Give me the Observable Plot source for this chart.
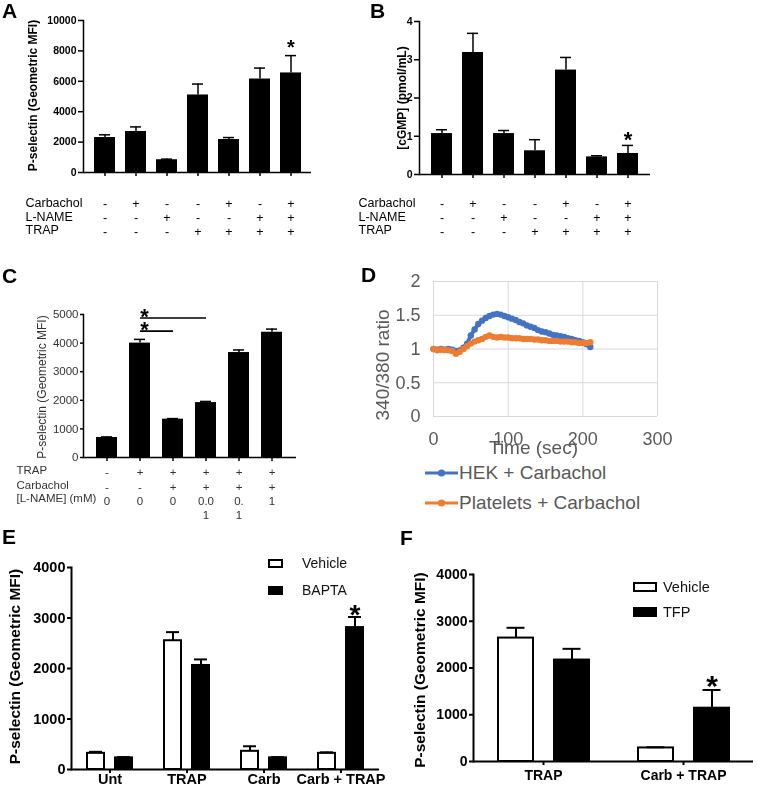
<!DOCTYPE html>
<html>
<head>
<meta charset="utf-8">
<script src="https://cdn.jsdelivr.net/npm/d3@7"></script>
<script src="https://cdn.jsdelivr.net/npm/@observablehq/plot@0.6"></script>
<style>
  html, body { margin: 0; padding: 0; background: #fff; }
  #fig { position: relative; width: 757px; height: 793px; overflow: hidden; background: #fff;
         font-family: "Liberation Sans", Arial, Helvetica, sans-serif; }
  .panel { position: absolute; will-change: transform; }
  .panel svg { display: block; }
  .letter { position: absolute; font: bold 21px/1 "Liberation Sans", Arial, sans-serif; color: #000; }
  .leg { position: absolute; display: flex; align-items: center; white-space: nowrap; }
</style>
</head>
<body>
<div id="fig"></div>
<script>
const FONT = '"Liberation Sans", Arial, Helvetica, sans-serif';

// ---------------- Panel A ----------------
const aConditions = ["Untreated", "Carbachol", "L-NAME", "TRAP", "Carbachol + TRAP", "L-NAME + TRAP", "Carbachol + L-NAME + TRAP"];
const aMean   = [2300, 2700, 840, 5100, 2170, 6150, 6550];
const aErrTop = [2480, 3000, 880, 5820, 2300, 6870, 7690];
const aStarred = ["Carbachol + L-NAME + TRAP"];
const aRowLabels = ["Carbachol", "L-NAME", "TRAP"];
const aCarbachol = ["-", "+", "-", "-", "+", "-", "+"];
const aLName     = ["-", "-", "+", "-", "-", "+", "+"];
const aTrap      = ["-", "-", "-", "+", "+", "+", "+"];
const aYTicks = [0, 2000, 4000, 6000, 8000, 10000];
const aYTitle = "P-selectin (Geometric MFI)";

// ---------------- Panel B ----------------
const bConditions = ["Untreated", "Carbachol", "L-NAME", "TRAP", "Carbachol + TRAP", "L-NAME + TRAP", "Carbachol + L-NAME + TRAP"];
const bMean   = [1.07, 3.19, 1.07, 0.62, 2.73, 0.46, 0.55];
const bErrTop = [1.17, 3.69, 1.15, 0.91, 3.06, 0.49, 0.76];
const bStarred = ["Carbachol + L-NAME + TRAP"];
const bRowLabels = ["Carbachol", "L-NAME", "TRAP"];
const bCarbachol = ["-", "+", "-", "-", "+", "-", "+"];
const bLName     = ["-", "-", "+", "-", "-", "+", "+"];
const bTrap      = ["-", "-", "-", "+", "+", "+", "+"];
const bYTicks = [0, 1, 2, 3, 4];
const bYTitle = "[cGMP] (pmol/mL)";

// ---------------- Panel C ----------------
const cConditions = ["Untreated", "TRAP", "TRAP + Carbachol", "TRAP + Carbachol + 0.01 mM L-NAME", "TRAP + Carbachol + 0.1 mM L-NAME", "TRAP + Carbachol + 1 mM L-NAME"];
const cMean   = [700, 4000, 1340, 1920, 3670, 4380];
const cErrTop = [720, 4130, 1360, 1960, 3760, 4490];
const cRowLabels = ["TRAP", "Carbachol", "[L-NAME] (mM)"];
const cTrap      = ["-", "+", "+", "+", "+", "+"];
const cCarbachol = ["-", "-", "+", "+", "+", "+"];
const cLName     = ["0", "0", "0", "0.0\n1", "0.\n1", "1"];
const cYTicks = [0, 1000, 2000, 3000, 4000, 5000];
const cYTitle = "P-selectin (Geometric MFI)";
const cSigFrom  = ["TRAP", "TRAP"];
const cSigTo    = ["TRAP + Carbachol + 0.01 mM L-NAME", "TRAP + Carbachol"];
const cSigLevel = [4880, 4420];

// ---------------- Panel D ----------------
const dTime = [0,5,10,15,20,25,30,35,40,45,50,55,60,65,70,75,80,85,90,95,100,105,110,115,120,125,130,135,140,145,150,155,160,165,170,175,180,185,190,195,200,205,210];
const dHek = [1.00,0.99,1.00,0.99,1.00,0.99,0.97,0.98,1.02,1.08,1.20,1.29,1.37,1.42,1.46,1.49,1.51,1.52,1.51,1.49,1.47,1.45,1.43,1.40,1.38,1.35,1.33,1.31,1.28,1.26,1.25,1.23,1.21,1.20,1.19,1.18,1.16,1.15,1.13,1.12,1.10,1.07,1.03];
const dPlatelets = [1.00,0.98,0.99,0.99,0.98,0.97,0.93,0.96,1.00,1.04,1.08,1.11,1.13,1.15,1.18,1.20,1.18,1.17,1.18,1.17,1.17,1.16,1.16,1.16,1.15,1.15,1.15,1.14,1.14,1.13,1.13,1.12,1.12,1.12,1.11,1.11,1.11,1.10,1.10,1.09,1.09,1.09,1.10];
const dSeriesNames = ["HEK + Carbachol", "Platelets + Carbachol"];
const dSeriesColors = ["#4472C4", "#ED7D31"];
const dXTicks = [0, 100, 200, 300];
const dYTicks = [0, 0.5, 1, 1.5, 2];
const dXTitle = "Time (sec)";
const dYTitle = "340/380 ratio";

// ---------------- Panel E ----------------
const eCategories = ["Unt", "TRAP", "Carb", "Carb + TRAP"];
const eGroups = ["Vehicle", "BAPTA"];
const eVehicleMean = [320, 2550, 360, 320];
const eVehicleErr  = [350, 2720, 460, 340];
const eBaptaMean   = [230, 2060, 230, 2810];
const eBaptaErr    = [245, 2180, 245, 3020];
const eStarred = [{cat: "Carb + TRAP", group: "BAPTA"}];
const eYTicks = [0, 1000, 2000, 3000, 4000];
const eYTitle = "P-selectin (Geometric MFI)";

// ---------------- Panel F ----------------
const fCategories = ["TRAP", "Carb + TRAP"];
const fGroups = ["Vehicle", "TFP"];
const fVehicleMean = [2640, 290];
const fVehicleErr  = [2860, 305];
const fTfpMean     = [2170, 1140];
const fTfpErr      = [2410, 1530];
const fStarred = [{cat: "Carb + TRAP", group: "TFP"}];
const fYTicks = [0, 1000, 2000, 3000, 4000];
const fYTitle = "P-selectin (Geometric MFI)";

const groupFills = ["#ffffff", "#000000"];

// ---------------- helpers ----------------
const fig = document.getElementById("fig");
function place(el, left, top, w, h) {
  const wrap = document.createElement("div");
  wrap.className = "panel";
  wrap.style.left = left + "px";
  wrap.style.top = top + "px";
  wrap.style.width = w + "px";
  wrap.style.height = h + "px";
  wrap.appendChild(el);
  fig.appendChild(wrap);
}
function letter(txt, left, top) {
  const d = document.createElement("div");
  d.className = "letter";
  d.textContent = txt;
  d.style.left = left + "px";
  d.style.top = top + "px";
  fig.appendChild(d);
}
function baseStyle(extra) {
  return Object.assign({fontFamily: FONT, fontSize: "11px", color: "#000", background: "transparent", overflow: "visible", maxWidth: "none"}, extra || {});
}

function conditionPanel(o) {
  const data = o.conditions.map((c, i) => ({
    cond: c, mean: o.mean[i], err: o.errTop[i],
    star: o.starred.includes(c),
    signs: o.rowValues.map(r => r[i])
  }));
  const marks = [
    Plot.barY(data, {x: "cond", y: "mean", fill: "#000"}),
    Plot.ruleX(data, {x: "cond", y1: "mean", y2: "err", stroke: "#000", strokeWidth: o.errWidth}),
    Plot.tickY(data, {x: "cond", y: "err", stroke: "#000", strokeWidth: o.errWidth, insetLeft: o.capInset, insetRight: o.capInset}),
    Plot.ruleY([0], {stroke: "#000", strokeWidth: o.axisWidth}),
    Plot.frame({anchor: "left", stroke: "#000", strokeWidth: o.axisWidth}),
    Plot.axisY({ticks: o.yTicks, tickFormat: d => String(d), tickSize: o.yTickSize, tickPadding: o.yTickPadding,
      strokeWidth: o.axisWidth, fontSize: o.tickFont, fontWeight: o.tickWeight, fill: o.textColor, label: null}),
    Plot.axisX({tickSize: 4, tickFormat: () => "", strokeWidth: o.axisWidth, label: null}),
    Plot.text([o.yTitle], {text: d => d, frameAnchor: "left", textAnchor: "middle", rotate: -90, dx: o.titleDx, dy: o.titleDy || 0,
      fontSize: o.titleFont, fontWeight: o.titleWeight, fill: o.textColor}),
    Plot.text(data.filter(d => d.star), {x: "cond", y: "err", text: () => "*", dy: o.starDy, fontSize: o.starFont, fontWeight: "bold"}),
    ...o.rowLabels.flatMap((label, k) => [
      Plot.text(data, {x: "cond", text: d => d.signs[k], frameAnchor: "bottom", lineAnchor: "top",
        lineHeight: o.lineHeight, dy: o.rowCenters[k] - 0.39 * o.rowFont, fontSize: o.rowFont, fill: o.textColor}),
      Plot.text([label], {text: d => d, frameAnchor: "bottom-left", textAnchor: "start", lineAnchor: "top",
        dx: o.rowLabelDx, dy: o.rowCenters[k] - 0.39 * o.rowFont, fontSize: o.rowFont, fill: o.textColor})
    ]),
    ...(o.extra ? o.extra(data) : [])
  ];
  return Plot.plot({
    width: o.width, height: o.height,
    marginLeft: o.ml, marginRight: o.mr, marginTop: o.mt, marginBottom: o.mb,
    x: {domain: o.conditions, paddingInner: o.pi, paddingOuter: o.po},
    y: {domain: o.yDomain},
    style: baseStyle(),
    marks
  });
}

// ---------------- Panel A ----------------
place(conditionPanel({
  conditions: aConditions, mean: aMean, errTop: aErrTop, starred: aStarred,
  rowLabels: aRowLabels, rowValues: [aCarbachol, aLName, aTrap],
  yTicks: aYTicks, yDomain: [0, 10000], yTitle: aYTitle,
  width: 320, height: 240, ml: 83, mr: 9, mt: 20, mb: 68, pi: 0.333, po: 0.333,
  errWidth: 1.5, capInset: 5, axisWidth: 1.5, yTickSize: 5, yTickPadding: 2,
  tickFont: 10.5, tickWeight: "bold", titleFont: 12, titleWeight: "bold", titleDx: -50, titleDy: -1, textColor: "#000",
  starDy: -8.5, starFont: 20, rowCenters: [30, 44, 57.5], rowFont: 12.5, rowLabelDx: -58, lineHeight: 1.2
}), 0, 0, 320, 240);

// ---------------- Panel B ----------------
place(conditionPanel({
  conditions: bConditions, mean: bMean, errTop: bErrTop, starred: bStarred,
  rowLabels: bRowLabels, rowValues: [bCarbachol, bLName, bTrap],
  yTicks: bYTicks, yDomain: [0, 4], yTitle: bYTitle,
  width: 417, height: 240, ml: 79, mr: 107, mt: 21, mb: 66, pi: 0.333, po: 0.333,
  errWidth: 1.5, capInset: 5, axisWidth: 1.5, yTickSize: 5, yTickPadding: 2,
  tickFont: 10.5, tickWeight: "bold", titleFont: 12, titleWeight: "bold", titleDx: -17, titleDy: 0, textColor: "#000",
  starDy: -5, starFont: 22, rowCenters: [28, 42, 55.5], rowFont: 12.5, rowLabelDx: -61, lineHeight: 1.2
}), 340, 0, 417, 240);

// ---------------- Panel C ----------------
place(conditionPanel({
  conditions: cConditions, mean: cMean, errTop: cErrTop, starred: [],
  rowLabels: cRowLabels, rowValues: [cTrap, cCarbachol, cLName],
  yTicks: cYTicks, yDomain: [0, 5000], yTitle: cYTitle,
  width: 330, height: 290, ml: 83, mr: 34, mt: 69, mb: 78, pi: 0.35, po: 0.326,
  errWidth: 1.5, capInset: 5, axisWidth: 1.5, yTickSize: 3, yTickPadding: 2,
  tickFont: 11.5, tickWeight: "normal", titleFont: 12, titleWeight: "normal", titleDx: -41, titleDy: 1, textColor: "#333",
  starDy: 0, starFont: 22, rowCenters: [13, 28, 41.3], rowFont: 11.5, rowLabelDx: -67, lineHeight: 1.25,
  extra: () => {
    const sig = cSigFrom.map((f, i) => ({from: f, to: cSigTo[i], level: cSigLevel[i]}));
    return [
      Plot.link(sig, {x1: "from", x2: "to", y1: "level", y2: "level", stroke: "#000", strokeWidth: 1.6}),
      Plot.text(sig, {x: "from", y: "level", text: () => "*", dx: 4.5, dy: -1.2, fontSize: 22, fontWeight: "bold"})
    ];
  }
}), 0, 245, 330, 290);

// ---------------- Panel D ----------------
const dSeries = [dHek, dPlatelets].map((vals, s) => dTime.map((t, i) => ({t, v: vals[i], series: dSeriesNames[s]})));
place(Plot.plot({
  width: 300, height: 200, marginLeft: 58, marginRight: 18, marginTop: 19, marginBottom: 46,
  x: {domain: [0, 300]}, y: {domain: [0, 2]},
  style: baseStyle({color: "#595959"}),
  marks: [
    Plot.gridX(dXTicks, {stroke: "#d9d9d9", strokeOpacity: 1, strokeWidth: 1}),
    Plot.gridY(dYTicks, {stroke: "#d9d9d9", strokeOpacity: 1, strokeWidth: 1}),
    ...dSeries.flatMap((ser, s) => [
      Plot.line(ser, {x: "t", y: "v", stroke: dSeriesColors[s], strokeWidth: 4}),
      Plot.dot(ser, {x: "t", y: "v", r: 3.2, fill: dSeriesColors[s], stroke: "none"})
    ]),
    Plot.axisY({ticks: dYTicks, tickSize: 0, tickPadding: 13, tickFormat: d => String(d), fontSize: 18, fill: "#595959", label: null}),
    Plot.axisX({ticks: dXTicks, tickSize: 0, tickPadding: 16, tickFormat: d => String(d), fontSize: 18, fill: "#595959", label: null}),
    Plot.text([dXTitle], {text: d => d, frameAnchor: "bottom", dx: -12, dy: 37, fontSize: 19, fill: "#595959"}),
    Plot.text([dYTitle], {text: d => d, frameAnchor: "left", textAnchor: "middle", rotate: -90, dx: -51, dy: 16, fontSize: 19, fill: "#595959"})
  ]
}), 375, 262, 300, 200);

// legend D
dSeriesNames.forEach((name, s) => {
  const d = document.createElement("div");
  d.className = "leg";
  d.style.left = "425px";
  d.style.top = (462 + s * 30) + "px";
  d.style.height = "22px";
  d.style.fontSize = "19px";
  d.style.color = "#595959";
  d.innerHTML = `<svg width="33" height="10" style="margin-right:1px"><line x1="0" x2="33" y1="5" y2="5" stroke="${dSeriesColors[s]}" stroke-width="3"/><circle cx="16.5" cy="5" r="3.6" fill="${dSeriesColors[s]}"/></svg><span>${name}</span>`;
  fig.appendChild(d);
});

// ---------------- grouped panels (E, F) ----------------
function groupedPanel(o) {
  const data = o.categories.flatMap((c, i) => o.groups.map((g, j) => ({
    cat: c, group: g, mean: o.means[j][i], err: o.errs[j][i],
    star: o.starred.some(s => s.cat === c && s.group === g)
  })));
  return Plot.plot({
    width: o.width, height: o.height,
    marginLeft: o.ml, marginRight: o.mr, marginTop: o.mt, marginBottom: o.mb,
    fx: {domain: o.categories, padding: 0},
    x: {domain: o.groups, axis: null, paddingInner: o.pi, paddingOuter: o.po},
    y: {domain: o.yDomain},
    color: {domain: o.groups, range: groupFills},
    style: baseStyle(),
    marks: [
      Plot.ruleY([0], {stroke: "#000", strokeWidth: 2}),
      Plot.barY(data, {fx: "cat", x: "group", y: "mean", fill: "group", stroke: "#000", strokeWidth: 2}),
      Plot.ruleX(data, {fx: "cat", x: "group", y1: "mean", y2: "err", stroke: "#000", strokeWidth: 2}),
      Plot.tickY(data, {fx: "cat", x: "group", y: "err", stroke: "#000", strokeWidth: 2, insetLeft: o.capInset, insetRight: o.capInset}),
      Plot.text(data.filter(d => d.star), {fx: "cat", x: "group", y: "err", text: () => "*", dy: o.starDy, fontSize: o.starFont, fontWeight: "bold"}),
      Plot.frame({anchor: "left", facetAnchor: "left", stroke: "#000", strokeWidth: 2}),
      Plot.axisY({ticks: o.yTicks, tickFormat: d => String(d), tickSize: 4, tickPadding: 2, strokeWidth: 2,
        fontSize: o.tickFont, fontWeight: "bold", label: null}),
      Plot.axisFx({anchor: "bottom", tickSize: 4, tickPadding: o.fxPadding, strokeWidth: 2, fontSize: o.catFont, fontWeight: "bold", label: null}),
      Plot.text([o.yTitle], {text: d => d, frameAnchor: "left", facetAnchor: "left", textAnchor: "middle", rotate: -90, dx: o.titleDx, dy: o.titleDy,
        fontSize: o.titleFont, fontWeight: "bold"})
    ]
  });
}
function groupLegend(groups, left, tops, box, font, textLeft) {
  groups.forEach((g, i) => {
    const d = document.createElement("div");
    d.className = "leg";
    d.style.left = left + "px";
    d.style.top = (tops[i] - 10) + "px";
    d.style.height = "20px";
    d.style.fontSize = font + "px";
    d.style.color = "#111";
    d.innerHTML = `<span style="display:inline-block;box-sizing:border-box;width:${box[0]}px;height:${box[1]}px;border:2px solid #000;background:${groupFills[i]};margin-right:${textLeft - box[0]}px"></span><span>${g}</span>`;
    fig.appendChild(d);
  });
}

// ---------------- Panel E ----------------
place(groupedPanel({
  categories: eCategories, groups: eGroups, means: [eVehicleMean, eBaptaMean], errs: [eVehicleErr, eBaptaErr],
  starred: eStarred, yTicks: eYTicks, yDomain: [0, 4000], yTitle: eYTitle,
  width: 385, height: 248, ml: 69, mr: 5, mt: 22, mb: 24, pi: 0.38, po: 0.53,
  capInset: 2, starDy: -1.5, starFont: 28, tickFont: 14.5, catFont: 14.5, fxPadding: 0,
  titleFont: 15.5, titleDx: -56, titleDy: -2
}), 0, 545, 385, 248);
groupLegend(eGroups, 268, [563, 590], [15, 9], 14, 34);

// ---------------- Panel F ----------------
place(groupedPanel({
  categories: fCategories, groups: fGroups, means: [fVehicleMean, fTfpMean], errs: [fVehicleErr, fTfpErr],
  starred: fStarred, yTicks: fYTicks, yDomain: [0, 4000], yTitle: fYTitle,
  width: 372, height: 248, ml: 88, mr: 4, mt: 29, mb: 32, pi: 0.375, po: 0.4375,
  capInset: 8.5, starDy: -3.7, starFont: 30, tickFont: 14, catFont: 14, fxPadding: 5,
  titleFont: 15.5, titleDx: -53, titleDy: 2
}), 385, 545, 372, 248);
groupLegend(fGroups, 633, [587, 612], [24, 10], 14.5, 30);

// ---------------- panel letters ----------------
letter("A", 2, 0);
letter("B", 370, 0);
letter("C", 2, 265);
letter("D", 361, 264);
letter("E", 2, 526);
letter("F", 400, 527);
</script>
</body>
</html>
